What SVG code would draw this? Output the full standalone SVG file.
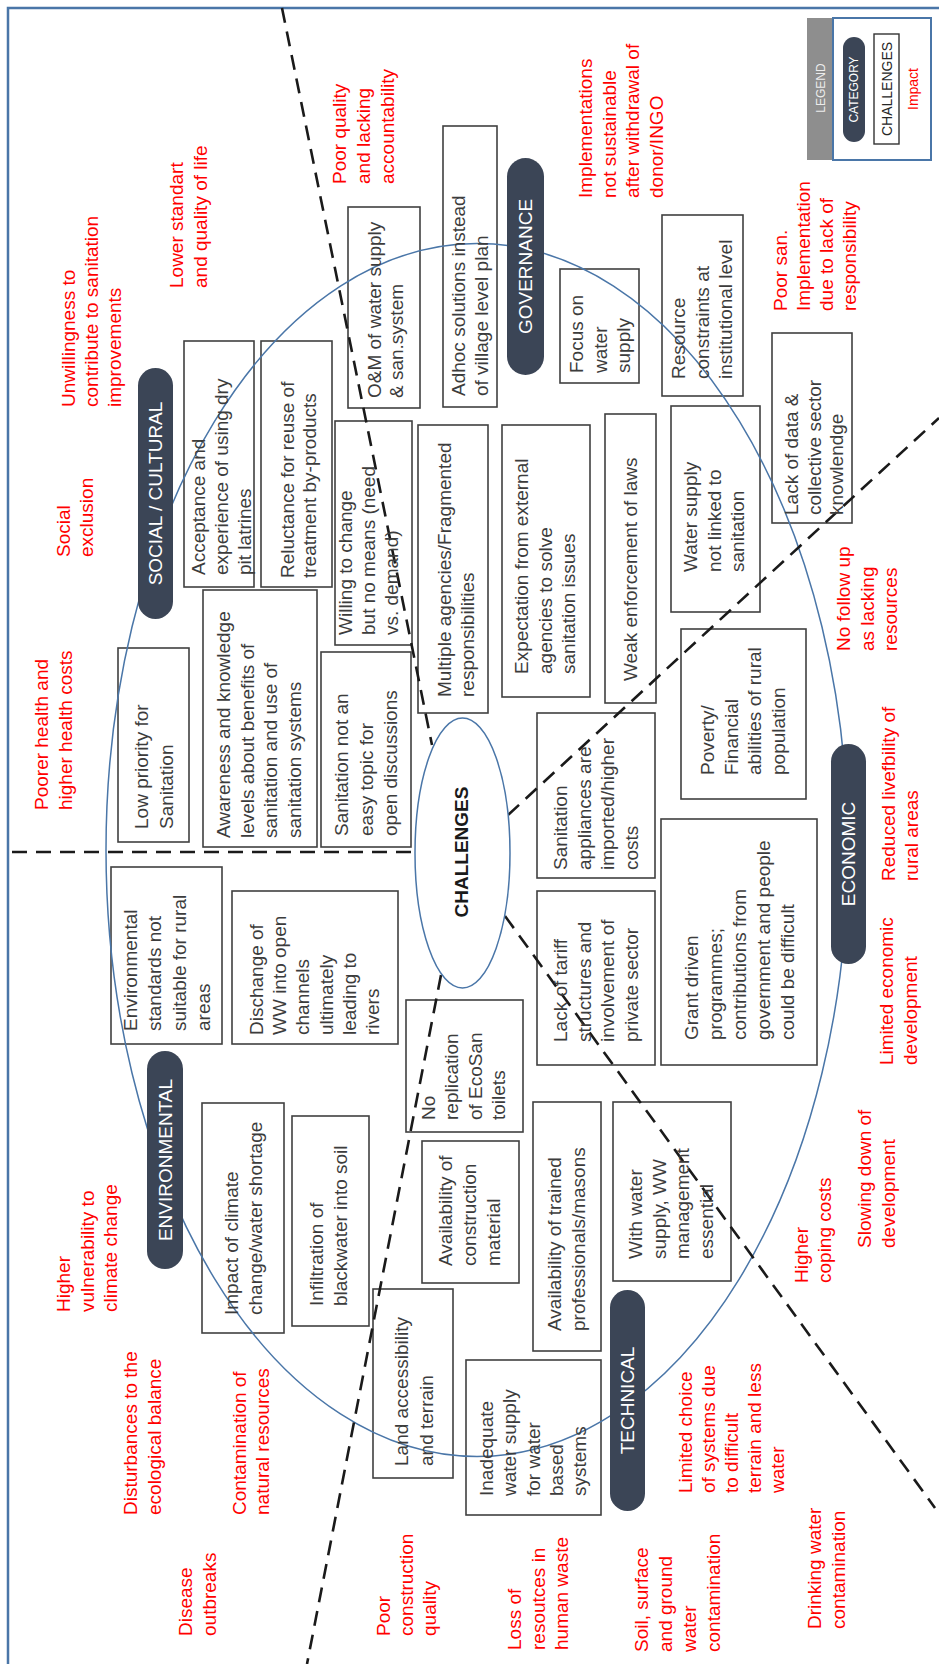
<svg xmlns="http://www.w3.org/2000/svg" width="939" height="1664" viewBox="0 0 939 1664">
<style>
.box{fill:#fff;stroke:#404040;stroke-width:1.6}
.t{font-family:"Liberation Sans",Arial,sans-serif;font-size:19px;fill:#3c3c3c}
.r{font-family:"Liberation Sans",Arial,sans-serif;font-size:19px;fill:#ff0000}
.pill{fill:#3b4556}
.pt{font-family:"Liberation Sans",Arial,sans-serif;font-size:19px;fill:#ffffff;text-anchor:middle}
.dash{fill:none;stroke:#1a1a1a;stroke-width:2.6;stroke-dasharray:15 9}
.ell{fill:none;stroke:#4a76a8;stroke-width:1.5}
</style>
<rect x="0" y="0" width="939" height="1664" fill="#ffffff"/>
<path d="M8,1664 V8 H939" fill="none" stroke="#4a76a8" stroke-width="2.5"/>

<g id="boxes">
<rect id="b-lowpriority" class="box" x="118" y="648" width="71" height="194"/>
<rect id="b-awareness" class="box" x="203" y="590" width="114" height="257"/>
<rect id="b-acceptance" class="box" x="184" y="341" width="70" height="246"/>
<rect id="b-reluctance" class="box" x="261" y="341" width="71" height="246"/>
<rect id="b-willing" class="box" x="335" y="421" width="77" height="224"/>
<rect id="b-topic" class="box" x="321" y="652" width="90" height="195"/>
<rect id="b-om" class="box" x="348" y="207" width="72" height="201"/>
<rect id="b-multiple" class="box" x="418" y="425" width="70" height="288"/>
<rect id="b-adhoc" class="box" x="443" y="126" width="54" height="281"/>
<rect id="b-expectation" class="box" x="502" y="425" width="88" height="272"/>
<rect id="b-weak" class="box" x="605" y="414" width="51" height="289"/>
<rect id="b-focus" class="box" x="560" y="269" width="79" height="114"/>
<rect id="b-resource" class="box" x="662" y="215" width="81" height="181"/>
<rect id="b-notlinked" class="box" x="671" y="406" width="89" height="206"/>
<rect id="b-lackdata" class="box" x="772" y="333" width="80" height="190"/>
<rect id="b-poverty" class="box" x="681" y="629" width="125" height="170"/>
<rect id="b-appliances" class="box" x="537" y="713" width="118" height="165"/>
<rect id="b-tariff" class="box" x="537" y="891" width="118" height="174"/>
<rect id="b-grant" class="box" x="661" y="819" width="156" height="246"/>
<rect id="b-ecosan" class="box" x="406" y="1000" width="117" height="132"/>
<rect id="b-envstd" class="box" x="111" y="867" width="111" height="177"/>
<rect id="b-discharge" class="box" x="232" y="891" width="166" height="153"/>
<rect id="b-impact" class="box" x="202" y="1103" width="82" height="230"/>
<rect id="b-infiltration" class="box" x="292" y="1116" width="77" height="210"/>
<rect id="b-land" class="box" x="373" y="1289" width="80" height="189"/>
<rect id="b-material" class="box" x="422" y="1141" width="97" height="142"/>
<rect id="b-trained" class="box" x="533" y="1102" width="68" height="249"/>
<rect id="b-wwmgmt" class="box" x="613" y="1102" width="118" height="179"/>
<rect id="b-inadequate" class="box" x="466" y="1360" width="135" height="155"/>
</g>

<g id="connectors">
<ellipse class="ell" cx="477" cy="850" rx="371" ry="606.5"/>
<line class="dash" x1="12" y1="852" x2="415" y2="852"/>
<line class="dash" x1="282" y1="8" x2="432" y2="745"/>
<line class="dash" x1="508" y1="815" x2="939" y2="418"/>
<line class="dash" x1="505" y1="916" x2="935" y2="1508"/>
<line class="dash" x1="441" y1="975" x2="307" y2="1664"/>
</g>

<g id="challenges">
<ellipse cx="462.5" cy="853" rx="47.5" ry="135" fill="#ffffff" stroke="#4a76a8" stroke-width="1.5"/>
<text transform="translate(468 852) rotate(-90)" font-family="Liberation Sans, Arial, sans-serif" font-size="19" font-weight="bold" fill="#1a1a1a" text-anchor="middle">CHALLENGES</text>
</g>

<g id="cat-social"><rect class="pill" x="138" y="368" width="35" height="251" rx="17.5"/><text class="pt" transform="translate(162 493.5) rotate(-90)">SOCIAL / CULTURAL</text></g>
<g id="cat-governance"><rect class="pill" x="507" y="158" width="37" height="217" rx="18.5"/><text class="pt" transform="translate(532 266.5) rotate(-90)">GOVERNANCE</text></g>
<g id="cat-economic"><rect class="pill" x="831" y="744" width="35" height="220" rx="17.5"/><text class="pt" transform="translate(855 854) rotate(-90)">ECONOMIC</text></g>
<g id="cat-environmental"><rect class="pill" x="147" y="1051" width="36" height="218" rx="18"/><text class="pt" transform="translate(171.5 1160) rotate(-90)">ENVIRONMENTAL</text></g>
<g id="cat-technical"><rect class="pill" x="610" y="1290" width="35" height="221" rx="17.5"/><text class="pt" transform="translate(634 1400.5) rotate(-90)">TECHNICAL</text></g>

<g id="box-texts">
<text class="t" transform="translate(148 829) rotate(-90)"><tspan x="0" y="0">Low priority for</tspan><tspan x="0" y="25">Sanitation</tspan></text>
<text class="t" transform="translate(230 838) rotate(-90)"><tspan x="0" y="0">Awareness and knowledge</tspan><tspan x="0" y="23.7">levels about benefits of</tspan><tspan x="0" y="47.4">sanitation and use of</tspan><tspan x="0" y="71.1">sanitation systems</tspan></text>
<text class="t" transform="translate(205 575) rotate(-90)"><tspan x="0" y="0">Acceptance and</tspan><tspan x="0" y="23">experience of using dry</tspan><tspan x="0" y="46">pit latrines</tspan></text>
<text class="t" transform="translate(294 578) rotate(-90)"><tspan x="0" y="0">Reluctance for reuse of</tspan><tspan x="0" y="22">treatment by-products</tspan></text>
<text class="t" transform="translate(352 635) rotate(-90)"><tspan x="0" y="0">Willing to change</tspan><tspan x="0" y="23">but no means (need</tspan><tspan x="0" y="46">vs. demand)</tspan></text>
<text class="t" transform="translate(348 836) rotate(-90)"><tspan x="0" y="0">Sanitation not an</tspan><tspan x="0" y="24.5">easy topic for</tspan><tspan x="0" y="49">open discussions</tspan></text>
<text class="t" transform="translate(381 398) rotate(-90)"><tspan x="0" y="0">O&amp;M of water supply</tspan><tspan x="0" y="21.5">&amp; san.system</tspan></text>
<text class="t" transform="translate(451 697) rotate(-90)"><tspan x="0" y="0">Multiple agencies/Fragmented</tspan><tspan x="0" y="23">responsibilities</tspan></text>
<text class="t" transform="translate(465 396) rotate(-90)"><tspan x="0" y="0">Adhoc solutions instead</tspan><tspan x="0" y="23">of village level plan</tspan></text>
<text class="t" transform="translate(528 674) rotate(-90)"><tspan x="0" y="0">Expectation from external</tspan><tspan x="0" y="23.5">agencies to solve</tspan><tspan x="0" y="47">sanitation issues</tspan></text>
<text class="t" transform="translate(637 681) rotate(-90)">Weak enforcement of laws</text>
<text class="t" transform="translate(583 373) rotate(-90)"><tspan x="0" y="0">Focus on</tspan><tspan x="0" y="23.5">water</tspan><tspan x="0" y="47">supply</tspan></text>
<text class="t" transform="translate(685 379) rotate(-90)"><tspan x="0" y="0">Resource</tspan><tspan x="0" y="23.5">constraints at</tspan><tspan x="0" y="47">institutional level</tspan></text>
<text class="t" transform="translate(697 572) rotate(-90)"><tspan x="0" y="0">Water supply</tspan><tspan x="0" y="23.5">not linked to</tspan><tspan x="0" y="47">sanitation</tspan></text>
<text class="t" transform="translate(798 515) rotate(-90)"><tspan x="0" y="0">Lack of data &amp;</tspan><tspan x="0" y="22.5">collective sector</tspan><tspan x="0" y="45">knowlendge</tspan></text>
<text class="t" transform="translate(714 775) rotate(-90)"><tspan x="0" y="0">Poverty/</tspan><tspan x="0" y="23.5">Financial</tspan><tspan x="0" y="47">abilities of rural</tspan><tspan x="0" y="70.5">population</tspan></text>
<text class="t" transform="translate(567 870) rotate(-90)"><tspan x="0" y="0">Sanitation</tspan><tspan x="0" y="23.5">appliances are</tspan><tspan x="0" y="47">imported/higher</tspan><tspan x="0" y="70.5">costs</tspan></text>
<text class="t" transform="translate(567 1042) rotate(-90)"><tspan x="0" y="0">Lack of tariff</tspan><tspan x="0" y="23.5">structures and</tspan><tspan x="0" y="47">involvement of</tspan><tspan x="0" y="70.5">private sector</tspan></text>
<text class="t" transform="translate(698 1040) rotate(-90)"><tspan x="0" y="0">Grant driven</tspan><tspan x="0" y="24">programmes;</tspan><tspan x="0" y="48">contributions from</tspan><tspan x="0" y="72">government and people</tspan><tspan x="0" y="96">could be difficult</tspan></text>
<text class="t" transform="translate(435 1120) rotate(-90)"><tspan x="0" y="0">No</tspan><tspan x="0" y="23.3">replication</tspan><tspan x="0" y="46.6">of EcoSan</tspan><tspan x="0" y="69.9">toilets</tspan></text>
<text class="t" transform="translate(137 1031) rotate(-90)"><tspan x="0" y="0">Environmental</tspan><tspan x="0" y="24.3">standards not</tspan><tspan x="0" y="48.6">suitable for rural</tspan><tspan x="0" y="72.9">areas</tspan></text>
<text class="t" transform="translate(263 1035) rotate(-90)"><tspan x="0" y="0">Dischange of</tspan><tspan x="0" y="23.2">WW into open</tspan><tspan x="0" y="46.4">channels</tspan><tspan x="0" y="69.6">ultimately</tspan><tspan x="0" y="92.8">leading to</tspan><tspan x="0" y="116">rivers</tspan></text>
<text class="t" transform="translate(238 1315) rotate(-90)"><tspan x="0" y="0">Impact of climate</tspan><tspan x="0" y="23.5">change/water shortage</tspan></text>
<text class="t" transform="translate(323 1306) rotate(-90)"><tspan x="0" y="0">Infiltration of</tspan><tspan x="0" y="24">blackwater into soil</tspan></text>
<text class="t" transform="translate(408 1466) rotate(-90)"><tspan x="0" y="0">Land accessibility</tspan><tspan x="0" y="24.5">and terrain</tspan></text>
<text class="t" transform="translate(452 1266) rotate(-90)"><tspan x="0" y="0">Availability of</tspan><tspan x="0" y="24">construction</tspan><tspan x="0" y="48">material</tspan></text>
<text class="t" transform="translate(561 1331) rotate(-90)"><tspan x="0" y="0">Availability of trained</tspan><tspan x="0" y="24">professionals/masons</tspan></text>
<text class="t" transform="translate(642 1259) rotate(-90)"><tspan x="0" y="0">With water</tspan><tspan x="0" y="23.5">supply, WW</tspan><tspan x="0" y="47">management</tspan><tspan x="0" y="70.5">essential</tspan></text>
<text class="t" transform="translate(493 1496) rotate(-90)"><tspan x="0" y="0">Inadequate</tspan><tspan x="0" y="23.3">water supply</tspan><tspan x="0" y="46.6">for water</tspan><tspan x="0" y="69.9">based</tspan><tspan x="0" y="93.2">systems</tspan></text>
</g>

<g id="impacts">
<text class="r" transform="translate(70 557) rotate(-90)"><tspan x="0" y="0">Social</tspan><tspan x="0" y="23">exclusion</tspan></text>
<text class="r" transform="translate(75 407) rotate(-90)"><tspan x="0" y="0">Unwillingness to</tspan><tspan x="0" y="23">contribute to sanitation</tspan><tspan x="0" y="46">improvements</tspan></text>
<text class="r" transform="translate(183 288) rotate(-90)"><tspan x="0" y="0">Lower standart</tspan><tspan x="0" y="24">and quality of life</tspan></text>
<text class="r" transform="translate(346 184) rotate(-90)"><tspan x="0" y="0">Poor quality</tspan><tspan x="0" y="24">and lacking</tspan><tspan x="0" y="48">accountability</tspan></text>
<text class="r" transform="translate(592 198) rotate(-90)"><tspan x="0" y="0">Implementations</tspan><tspan x="0" y="23.5">not sustainable</tspan><tspan x="0" y="47">after withdrawal of</tspan><tspan x="0" y="70.5">donor/INGO</tspan></text>
<text class="r" transform="translate(787 311) rotate(-90)"><tspan x="0" y="0">Poor san.</tspan><tspan x="0" y="23">Implementation</tspan><tspan x="0" y="46">due to lack of</tspan><tspan x="0" y="69">responsibility</tspan></text>
<text class="r" transform="translate(850 651) rotate(-90)"><tspan x="0" y="0">No follow up</tspan><tspan x="0" y="23.5">as lacking</tspan><tspan x="0" y="47">resources</tspan></text>
<text class="r" transform="translate(895 881) rotate(-90)"><tspan x="0" y="0">Reduced livefbility of</tspan><tspan x="0" y="23">rural areas</tspan></text>
<text class="r" transform="translate(893 1065) rotate(-90)"><tspan x="0" y="0">Limited economic</tspan><tspan x="0" y="23.5">development</tspan></text>
<text class="r" transform="translate(871 1248) rotate(-90)"><tspan x="0" y="0">Slowing down of</tspan><tspan x="0" y="24">development</tspan></text>
<text class="r" transform="translate(808 1283) rotate(-90)"><tspan x="0" y="0">Higher</tspan><tspan x="0" y="23">coping costs</tspan></text>
<text class="r" transform="translate(821 1629) rotate(-90)"><tspan x="0" y="0">Drinking water</tspan><tspan x="0" y="24">contamination</tspan></text>
<text class="r" transform="translate(692 1493) rotate(-90)"><tspan x="0" y="0">Limited choice</tspan><tspan x="0" y="23">of systems due</tspan><tspan x="0" y="46">to difficult</tspan><tspan x="0" y="69">terrain and less</tspan><tspan x="0" y="92">water</tspan></text>
<text class="r" transform="translate(648 1652) rotate(-90)"><tspan x="0" y="0">Soil, surface</tspan><tspan x="0" y="24">and ground</tspan><tspan x="0" y="48">water</tspan><tspan x="0" y="72">contamination</tspan></text>
<text class="r" transform="translate(521 1650) rotate(-90)"><tspan x="0" y="0">Loss of</tspan><tspan x="0" y="23.5">resoutces in</tspan><tspan x="0" y="47">human waste</tspan></text>
<text class="r" transform="translate(390 1636) rotate(-90)"><tspan x="0" y="0">Poor</tspan><tspan x="0" y="23">construction</tspan><tspan x="0" y="46">quality</tspan></text>
<text class="r" transform="translate(246 1515) rotate(-90)"><tspan x="0" y="0">Contamination of</tspan><tspan x="0" y="23">natural resources</tspan></text>
<text class="r" transform="translate(137 1515) rotate(-90)"><tspan x="0" y="0">Disturbances to the</tspan><tspan x="0" y="23.5">ecological balance</tspan></text>
<text class="r" transform="translate(70 1312) rotate(-90)"><tspan x="0" y="0">Higher</tspan><tspan x="0" y="23.5">vulnerability to</tspan><tspan x="0" y="47">climate change</tspan></text>
<text class="r" transform="translate(192 1636) rotate(-90)"><tspan x="0" y="0">Disease</tspan><tspan x="0" y="24">outbreaks</tspan></text>
<text class="r" transform="translate(48 810) rotate(-90)"><tspan x="0" y="0">Poorer health and</tspan><tspan x="0" y="23.5">higher health costs</tspan></text>
</g>

<g id="legend">
<rect x="807" y="18" width="26" height="142" fill="#8e8e8e"/>
<rect x="833" y="18" width="98" height="142" fill="#ffffff" stroke="#4a76a8" stroke-width="2"/>
<text transform="translate(824.5 88) rotate(-90)" font-family="Liberation Sans, Arial, sans-serif" font-size="12" fill="#ececec" text-anchor="middle">LEGEND</text>
<rect class="pill" x="843" y="37" width="22" height="105" rx="11"/>
<text transform="translate(858.3 89.5) rotate(-90)" font-family="Liberation Sans, Arial, sans-serif" font-size="12" fill="#ffffff" text-anchor="middle">CATEGORY</text>
<rect x="874" y="34" width="25" height="110" fill="#ffffff" stroke="#333333" stroke-width="1.4"/>
<text transform="translate(891.5 89) rotate(-90)" font-family="Liberation Sans, Arial, sans-serif" font-size="14" fill="#262626" text-anchor="middle">CHALLENGES</text>
<text transform="translate(918 89) rotate(-90)" font-family="Liberation Sans, Arial, sans-serif" font-size="14" fill="#ff0000" text-anchor="middle">Impact</text>
</g>
</svg>
